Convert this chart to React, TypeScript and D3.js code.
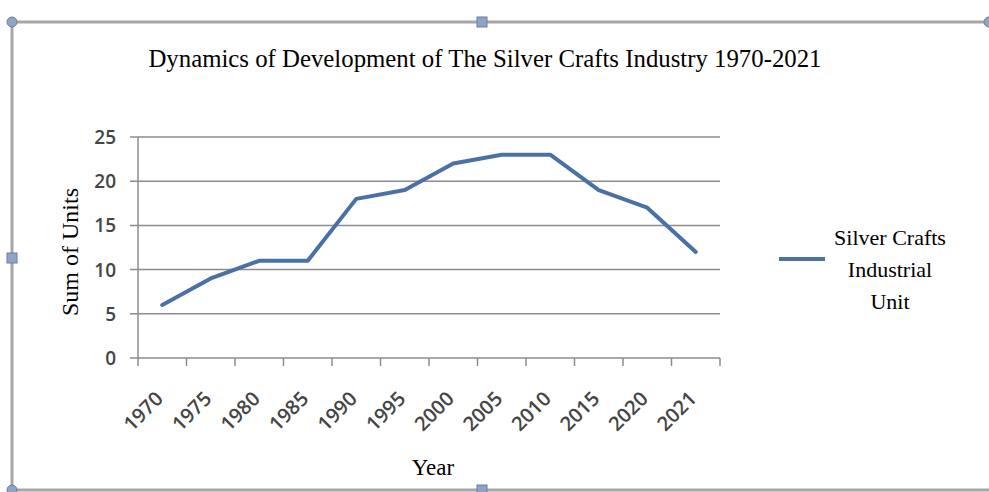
import React from "react";
import * as d3 from "d3";

const years = ["1970","1975","1980","1985","1990","1995","2000","2005","2010","2015","2020","2021"];
const units = [6, 9, 11, 11, 18, 19, 22, 23, 23, 19, 17, 12];
const yTicks = [0, 5, 10, 15, 20, 25];
const title = "Dynamics of Development of The Silver Crafts Industry 1970-2021";
const seriesName = ["Silver Crafts", "Industrial", "Unit"];

export default function App() {
  const W = 989, H = 492;
  const left = 138, right = 720, top = 137, bottom = 358;
  const x = d3.scaleBand().domain(years).range([left, right]);
  const y = d3.scaleLinear().domain([0, 25]).range([bottom, top]);
  const line = d3.line<number>().x((_, i) => (x(years[i]) as number) + x.bandwidth() / 2).y(d => y(d));
  const serif = "'Liberation Serif', 'Times New Roman', serif";
  const sans = "'Open Sans', 'DejaVu Sans', sans-serif";
  const frame = "#a6a6a6";
  const handleFill = "#8fa3c4";
  const handleStroke = "#6b7fa3";
  const tickColor = "#454545";
  const boundaries = years.map((yr) => x(yr) as number).concat([right]);
  return (
    <svg width={W} height={H} style={{ position: "absolute", left: 0, top: 0, background: "#fff" }}>
      <rect width={W} height={H} fill="#fff" />
      {/* frame */}
      <line x1={12} y1={22} x2={W} y2={22} stroke={frame} strokeWidth={3} />
      <line x1={12} y1={22} x2={12} y2={490} stroke={frame} strokeWidth={3} />
      <line x1={12} y1={490} x2={W} y2={490} stroke={frame} strokeWidth={3} />
      <circle cx={12} cy={22} r={5} fill={handleFill} stroke={handleStroke} />
      <circle cx={12} cy={490} r={5} fill={handleFill} stroke={handleStroke} />
      <circle cx={989} cy={22} r={5} fill={handleFill} stroke={handleStroke} />
      <rect x={477} y={17} width={10} height={10} fill={handleFill} stroke={handleStroke} />
      <rect x={7} y={253} width={10} height={10} fill={handleFill} stroke={handleStroke} />
      <rect x={477} y={485} width={10} height={10} fill={handleFill} stroke={handleStroke} />
      {/* title */}
      <text x={485} y={67} textAnchor="middle" fontFamily={serif} fontSize={24.8} fill="#000">{title}</text>
      {/* grid */}
      {yTicks.map(t => (
        <g key={t}>
          <line x1={left - 8} x2={right} y1={y(t)} y2={y(t)} stroke="#8c8c8c" strokeWidth={1.5} />
          <text x={left - 22} y={y(t) + 7} textAnchor="end" fontFamily={sans} fontSize={19} fontWeight={600} fill={tickColor}>{t}</text>
        </g>
      ))}
      <line x1={left} x2={left} y1={top} y2={bottom} stroke="#8c8c8c" strokeWidth={1.5} />
      {boundaries.map((b, i) => (
        <line key={i} x1={b} x2={b} y1={bottom} y2={bottom + 8} stroke="#8c8c8c" strokeWidth={1.5} />
      ))}
      {years.map(yr => {
        const cx = (x(yr) as number) + x.bandwidth() / 2 + 2;
        const cy = bottom + 42;
        return (
          <text key={yr} x={cx} y={cy} textAnchor="end" transform={`rotate(-45 ${cx} ${cy})`} fontFamily={sans} fontSize={20} fontWeight={600} fill={tickColor}>{yr}</text>
        );
      })}
      {/* series */}
      <path d={line(units) || ""} fill="none" stroke="#4a71a6" strokeWidth={4} strokeLinejoin="round" strokeLinecap="round" />
      {/* axis titles */}
      <text transform={`translate(78 252) rotate(-90)`} textAnchor="middle" fontFamily={serif} fontSize={24} fill="#000">Sum of Units</text>
      <text x={433} y={475} textAnchor="middle" fontFamily={serif} fontSize={23} fill="#000">Year</text>
      {/* legend */}
      <line x1={779} x2={825} y1={259} y2={259} stroke="#4a71a6" strokeWidth={4} />
      {seriesName.map((s, i) => (
        <text key={s} x={890} y={245 + i * 32} textAnchor="middle" fontFamily={serif} fontSize={22} fill="#000">{s}</text>
      ))}
    </svg>
  );
}
